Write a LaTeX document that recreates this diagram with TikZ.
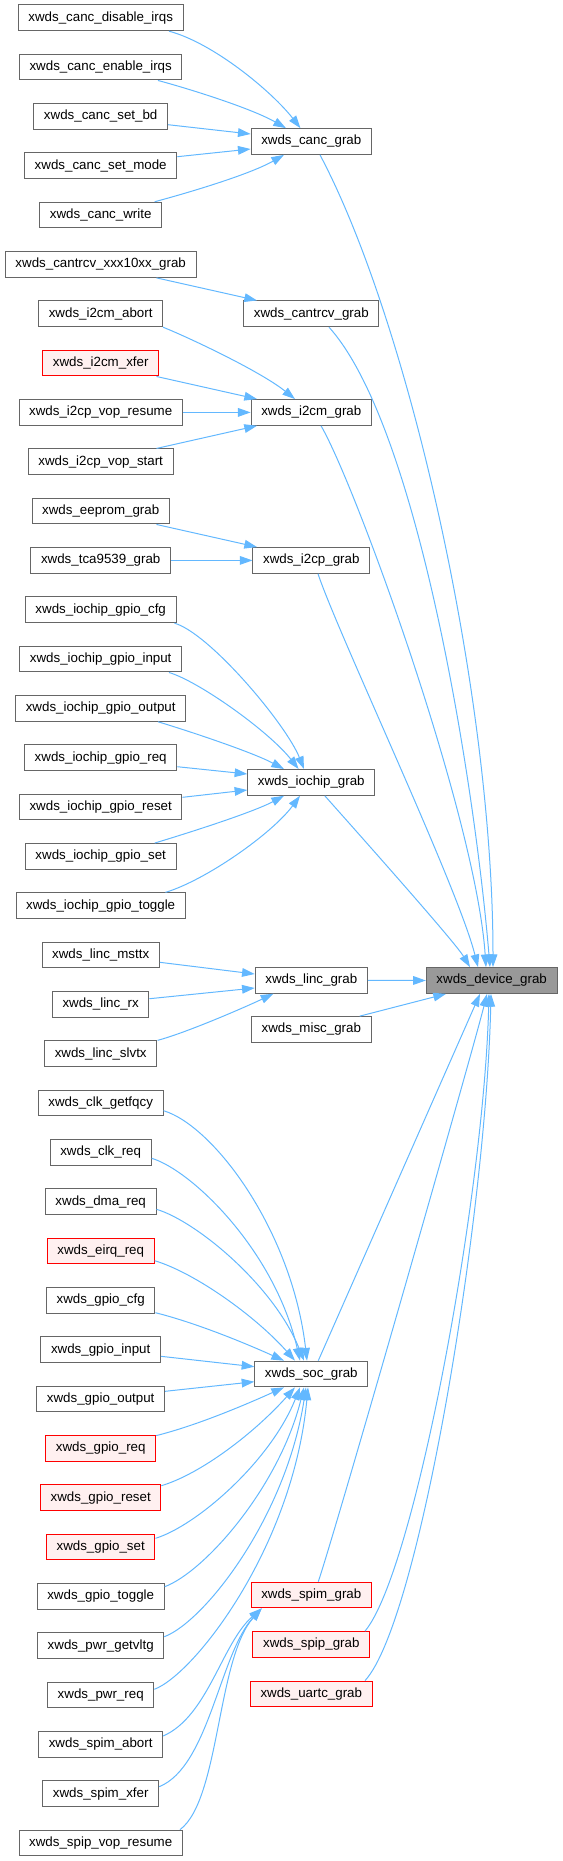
\documentclass[tikz,border=0pt]{standalone}
\usepackage{fontspec}
\setmainfont{Liberation Sans}
\usetikzlibrary{arrows.meta}
\definecolor{edgecol}{HTML}{63B8FF}
\definecolor{boxborder}{HTML}{666666}
\definecolor{redfill}{HTML}{FFF0F0}
\definecolor{redborder}{HTML}{FF0000}
\definecolor{mainfill}{HTML}{999999}
\begin{document}
\begin{tikzpicture}[x=0.75pt,y=-0.75pt,
  box/.style={draw=boxborder, fill=white, line width=0.75pt, inner xsep=7.6pt, inner ysep=0pt,
    minimum height=19.3pt, text height=7.2pt, text depth=2pt,
    font=\fontsize{10pt}{12pt}\selectfont},
  redbox/.style={box, draw=redborder, fill=redfill},
  mainbox/.style={box, fill=mainfill},
  edge/.style={draw=edgecol, line width=0.75pt, -{Triangle[length=9.5pt,width=6.5pt]}},
]
\useasboundingbox (0,0) rectangle (563,1861);
% left column
\node[box] (cdis) at (100.7,17.8) {xwds\_canc\_disable\_irqs};
\node[box] (cen) at (100.7,67.1) {xwds\_canc\_enable\_irqs};
\node[box] (cbd) at (100.7,116.5) {xwds\_canc\_set\_bd};
\node[box] (cmode) at (100.7,165.8) {xwds\_canc\_set\_mode};
\node[box] (cwrite) at (100.7,215.1) {xwds\_canc\_write};
\node[box] (cxxx) at (100.7,264.5) {xwds\_cantrcv\_xxx10xx\_grab};
\node[box] (i2ab) at (100.7,313.8) {xwds\_i2cm\_abort};
\node[redbox] (i2xf) at (100.7,363.1) {xwds\_i2cm\_xfer};
\node[box] (i2vr) at (100.7,412.4) {xwds\_i2cp\_vop\_resume};
\node[box] (i2vs) at (100.7,461.8) {xwds\_i2cp\_vop\_start};
\node[box] (eep) at (100.7,511.1) {xwds\_eeprom\_grab};
\node[box] (tca) at (100.7,560.4) {xwds\_tca9539\_grab};
\node[box] (iocfg) at (100.7,609.8) {xwds\_iochip\_gpio\_cfg};
\node[box] (ioin) at (100.7,659.1) {xwds\_iochip\_gpio\_input};
\node[box] (ioout) at (100.7,708.4) {xwds\_iochip\_gpio\_output};
\node[box] (ioreq) at (100.7,757.8) {xwds\_iochip\_gpio\_req};
\node[box] (iores) at (100.7,807.1) {xwds\_iochip\_gpio\_reset};
\node[box] (ioset) at (100.7,856.4) {xwds\_iochip\_gpio\_set};
\node[box] (iotog) at (100.7,905.7) {xwds\_iochip\_gpio\_toggle};
\node[box] (lmst) at (100.7,955.1) {xwds\_linc\_msttx};
\node[box] (lrx) at (100.7,1004.4) {xwds\_linc\_rx};
\node[box] (lslv) at (100.7,1053.7) {xwds\_linc\_slvtx};
\node[box] (clkg) at (100.7,1103.1) {xwds\_clk\_getfqcy};
\node[box] (clkr) at (100.7,1152.4) {xwds\_clk\_req};
\node[box] (dma) at (100.7,1201.7) {xwds\_dma\_req};
\node[redbox] (eirq) at (100.7,1251.1) {xwds\_eirq\_req};
\node[box] (gcfg) at (100.7,1300.4) {xwds\_gpio\_cfg};
\node[box] (ginp) at (100.7,1349.7) {xwds\_gpio\_input};
\node[box] (gout) at (100.7,1399.0) {xwds\_gpio\_output};
\node[redbox] (greq) at (100.7,1448.4) {xwds\_gpio\_req};
\node[redbox] (grst) at (100.7,1497.7) {xwds\_gpio\_reset};
\node[redbox] (gset) at (100.7,1547.0) {xwds\_gpio\_set};
\node[box] (gtog) at (100.7,1596.4) {xwds\_gpio\_toggle};
\node[box] (pgv) at (100.7,1645.7) {xwds\_pwr\_getvltg};
\node[box] (preq) at (100.7,1695.0) {xwds\_pwr\_req};
\node[box] (sab) at (100.7,1744.4) {xwds\_spim\_abort};
\node[box] (sxf) at (100.7,1793.7) {xwds\_spim\_xfer};
\node[box] (svr) at (100.7,1843.0) {xwds\_spip\_vop\_resume};
% middle column
\node[box] (canc) at (311.3,141.5) {xwds\_canc\_grab};
\node[box] (cantrcv) at (311.3,313.8) {xwds\_cantrcv\_grab};
\node[box] (i2cm) at (311.3,412.4) {xwds\_i2cm\_grab};
\node[box] (i2cp) at (311.3,560.4) {xwds\_i2cp\_grab};
\node[box] (iochip) at (311.3,782.4) {xwds\_iochip\_grab};
\node[box] (linc) at (311.3,980.3) {xwds\_linc\_grab};
\node[box] (misc) at (311.3,1029.5) {xwds\_misc\_grab};
\node[box] (soc) at (311.3,1374.0) {xwds\_soc\_grab};
\node[redbox] (spim) at (311.3,1595.0) {xwds\_spim\_grab};
\node[redbox] (spip) at (311.3,1644.5) {xwds\_spip\_grab};
\node[redbox] (uartc) at (311.3,1694.0) {xwds\_uartc\_grab};
% target
\node[mainbox] (dev) at (491.7,980.5) {xwds\_device\_grab};

% canc group
\draw[edge] ([shift={(68.3,0)}]cdis.south) .. controls +(45,12) and +(-28,-36) .. ([shift={(-10.9,0)}]canc.north);
\draw[edge] ([shift={(57.3,0)}]cen.south) .. controls +(30,8) and +(-35,-20) .. ([shift={(-25.3,0)}]canc.north);
\draw[edge] ([shift={(0,8.2)}]cbd.east) -- ([shift={(0,-7.5)}]canc.west);
\draw[edge] ([shift={(0,-9.1)}]cmode.east) -- ([shift={(0,7.5)}]canc.west);
\draw[edge] ([shift={(54,0)}]cwrite.north) .. controls +(30,-8) and +(-35,20) .. ([shift={(-27.3,0)}]canc.south);
% cantrcv
\draw[edge] ([shift={(55.8,0)}]cxxx.south) -- ([shift={(-54.3,0)}]cantrcv.north);
% i2cm group
\draw[edge] ([shift={(62.3,0)}]i2ab.south) .. controls +(25,10) and +(-35,-28) .. ([shift={(-16.3,0)}]i2cm.north);
\draw[edge] ([shift={(55.8,0)}]i2xf.south) -- ([shift={(-54.3,0)}]i2cm.north);
\draw[edge] (i2vr.east) -- (i2cm.west);
\draw[edge] ([shift={(55.8,0)}]i2vs.north) -- ([shift={(-54.3,0)}]i2cm.south);
% i2cp group
\draw[edge] ([shift={(55.8,0)}]eep.south) -- ([shift={(-54.3,0)}]i2cp.north);
\draw[edge] (tca.east) -- (i2cp.west);
% iochip group
\draw[edge] ([shift={(73.8,0)}]iocfg.south) .. controls +(35,10) and +(-18,-45) .. ([shift={(-7.3,0)}]iochip.north);
\draw[edge] ([shift={(68.3,0)}]ioin.south) .. controls +(30,9) and +(-30,-38) .. ([shift={(-12.7,0)}]iochip.north);
\draw[edge] ([shift={(57.3,0)}]ioout.south) .. controls +(30,9) and +(-32,-17) .. ([shift={(-27.3,0)}]iochip.north);
\draw[edge] ([shift={(0,8.9)}]ioreq.east) -- ([shift={(0,-8.4)}]iochip.west);
\draw[edge] ([shift={(0,-9.8)}]iores.east) -- ([shift={(0,7.6)}]iochip.west);
\draw[edge] ([shift={(54,0)}]ioset.north) .. controls +(30,-9) and +(-32,17) .. ([shift={(-27.3,0)}]iochip.south);
\draw[edge] ([shift={(64.8,0)}]iotog.north) .. controls +(40,-12) and +(-28,38) .. ([shift={(-11.3,0)}]iochip.south);
% linc group
\draw[edge] ([shift={(0,7.2)}]lmst.east) -- ([shift={(0,-6.3)}]linc.west);
\draw[edge] ([shift={(0,-5.7)}]lrx.east) -- ([shift={(0,7.7)}]linc.west);
\draw[edge] ([shift={(56.9,0)}]lslv.north) .. controls +(30,-8) and +(-25,12) .. ([shift={(-37.9,0)}]linc.south);
% soc group
\draw[edge] ([shift={(0,7.6)}]clkg.east) .. controls +(50,15) and +(-15,-130) .. ([shift={(-4.3,0)}]soc.north);
\draw[edge] ([shift={(0,5.9)}]clkr.east) .. controls +(40,12) and +(-25,-110) .. ([shift={(-11.3,0)}]soc.north);
\draw[edge] ([shift={(0,7.6)}]dma.east) .. controls +(40,12) and +(-30,-75) .. ([shift={(-7.3,0)}]soc.north);
\draw[edge] ([shift={(0,9.6)}]eirq.east) .. controls +(40,12) and +(-40,-45) .. ([shift={(-16.3,0)}]soc.north);
\draw[edge] ([shift={(0,12.3)}]gcfg.east) .. controls +(40,10) and +(-40,-18) .. ([shift={(-27.3,0)}]soc.north);
\draw[edge] ([shift={(0,6.6)}]ginp.east) -- ([shift={(0,-7.3)}]soc.west);
\draw[edge] ([shift={(0,-7.7)}]gout.east) -- ([shift={(0,7.7)}]soc.west);
\draw[edge] ([shift={(0,-12.8)}]greq.east) .. controls +(40,-10) and +(-40,18) .. ([shift={(-27.3,0)}]soc.south);
\draw[edge] ([shift={(0,-12)}]grst.east) .. controls +(40,-12) and +(-40,45) .. ([shift={(-16.3,0)}]soc.south);
\draw[edge] ([shift={(0,-8.7)}]gset.east) .. controls +(40,-12) and +(-30,75) .. ([shift={(-11.3,0)}]soc.south);
\draw[edge] ([shift={(0,-9.7)}]gtog.east) .. controls +(40,-15) and +(-25,100) .. ([shift={(-7.3,0)}]soc.south);
\draw[edge] ([shift={(0,-9)}]pgv.east) .. controls +(40,-15) and +(-20,130) .. ([shift={(-5.3,0)}]soc.south);
\draw[edge] ([shift={(0,-5.7)}]preq.east) .. controls +(40,-15) and +(-15,160) .. ([shift={(-3.3,0)}]soc.south);
% spim group
\draw[edge] ([shift={(0,-8.4)}]sab.east) .. controls +(45,-20) and +(-40,35) .. ([shift={(-49.6,0)}]spim.south);
\draw[edge] ([shift={(0,-7)}]sxf.east) .. controls +(50,-20) and +(-42,45) .. ([shift={(-49.6,0)}]spim.south);
\draw[edge] ([shift={(79.3,0)}]svr.north) .. controls +(40,-30) and +(-45,50) .. ([shift={(-49.6,0)}]spim.south);
% to device
\draw[edge] (linc.east) -- (dev.west);
\draw[edge] ([shift={(48.4,0)}]misc.north) -- ([shift={(-45.7,0)}]dev.south);
\draw[edge] ([shift={(8.7,0)}]canc.south) .. controls +(90,170) and +(0,-270) .. ([shift={(1.3,0)}]dev.north);
\draw[edge] ([shift={(17.7,0)}]cantrcv.south) .. controls +(90,100) and +(-15,-180) .. ([shift={(-1.7,0)}]dev.north);
\draw[edge] ([shift={(9.7,0)}]i2cm.south) .. controls +(35,60) and +(-10,-150) .. ([shift={(-5.7,0)}]dev.north);
\draw[edge] ([shift={(6.7,0)}]i2cp.south) .. controls +(20,60) and +(-20,-80) .. ([shift={(-13.7,0)}]dev.north);
\draw[edge] ([shift={(13.5,0)}]iochip.south) .. controls +(40,45) and +(-15,-25) .. ([shift={(-21.7,0)}]dev.north);
\draw[edge] ([shift={(7,0)}]soc.north) -- ([shift={(-11.7,0)}]dev.south);
\draw[edge] ([shift={(7,0)}]spim.north) .. controls +(20,-60) and +(-15,60) .. ([shift={(-4.7,0)}]dev.south);
\draw[edge] ([shift={(53.7,0)}]spip.north) .. controls +(50,-60) and +(-5,200) .. ([shift={(-2.7,0)}]dev.south);
\draw[edge] ([shift={(53.7,0)}]uartc.north) .. controls +(55,-60) and +(-5,220) .. ([shift={(-0.7,0)}]dev.south);
\end{tikzpicture}
\end{document}
